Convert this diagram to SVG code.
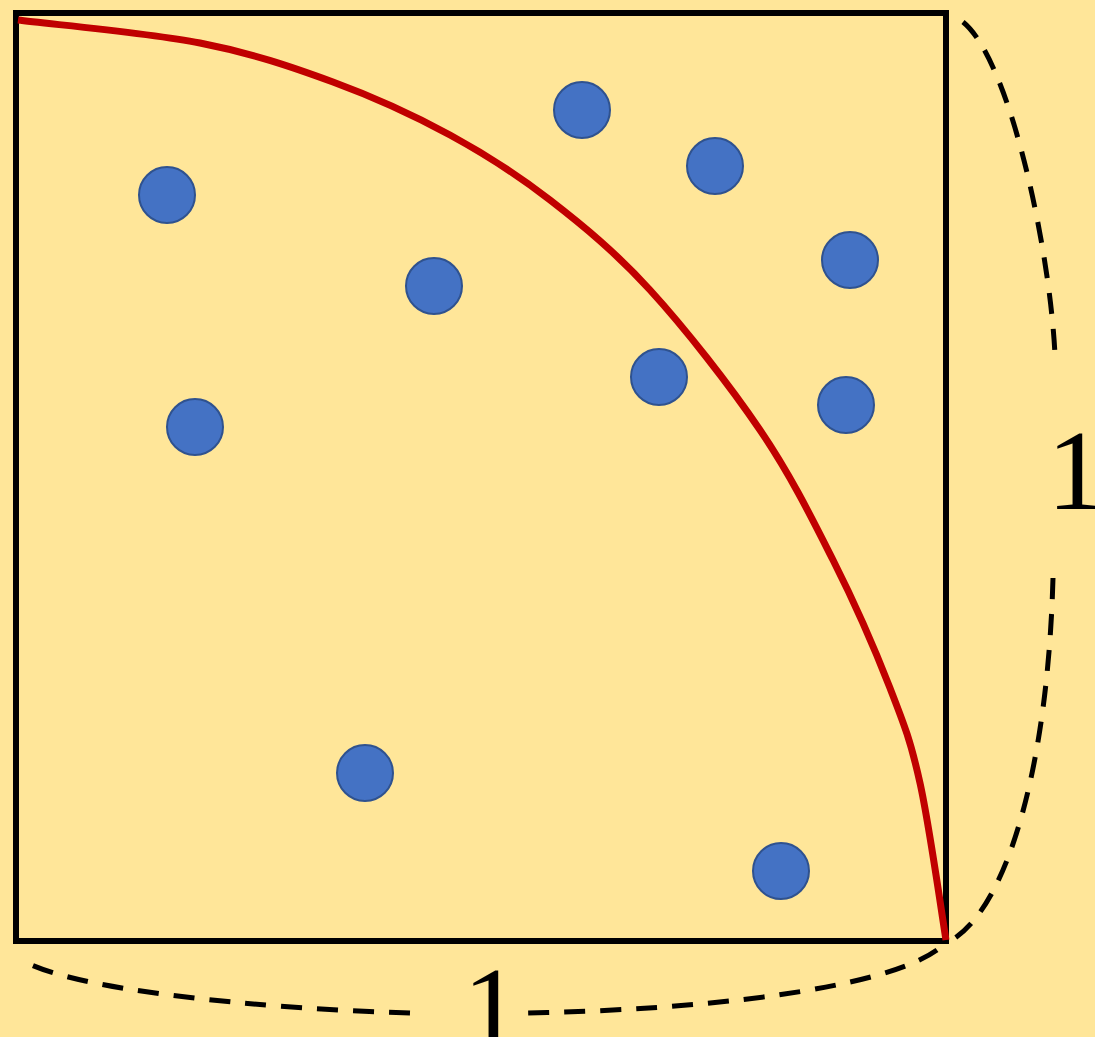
<svg xmlns="http://www.w3.org/2000/svg" width="1095" height="1037" viewBox="0 0 1095 1037">
<style>
.dot{fill:#4472C4;stroke:#2F528F;stroke-width:2}
.dash{fill:none;stroke:#000;stroke-width:5;stroke-dasharray:21 15}
.lbl{font-family:"Liberation Serif",serif;font-size:115px;fill:#000}
</style>
<rect width="1095" height="1037" fill="#FFE699"/>
<rect id="square" x="16" y="13" width="930" height="928" fill="none" stroke="#000" stroke-width="6"/>
<path id="arc" d="M18,20 C48,24 147.5,32.7 200,43 C252.5,53.3 291.3,66.7 333,82 C374.7,97.3 413.8,115.3 450,135 C486.2,154.7 516.7,174.2 550,200 C583.3,225.8 615,251.7 650,290 C685,328.3 729.5,385 760,430 C790.5,475 811.3,517 833,560 C854.7,603 875.5,650.8 890,688 C904.5,725.2 910.7,741 920,783 C929.3,825 941.7,913.8 946,940" fill="none" stroke="#C00000" stroke-width="7"/>
<g id="points">
<circle class="dot" cx="167" cy="195" r="28"/>
<circle class="dot" cx="582" cy="110" r="28"/>
<circle class="dot" cx="715" cy="166" r="28"/>
<circle class="dot" cx="850" cy="260" r="28"/>
<circle class="dot" cx="434" cy="286" r="28"/>
<circle class="dot" cx="659" cy="377" r="28"/>
<circle class="dot" cx="846" cy="405" r="28"/>
<circle class="dot" cx="195" cy="427" r="28"/>
<circle class="dot" cx="365" cy="773" r="28"/>
<circle class="dot" cx="781" cy="871" r="28"/>
</g>
<g id="braces">
<path class="dash" d="M963,22 C1010,60 1050,250 1055,355"/>
<path class="dash" d="M1053,578 C1048,760 1010,900 955,938"/>
<path class="dash" d="M937,950 C880,990 700,1010 525,1013"/>
<path class="dash" d="M410,1013 C250,1008 80,990 25,962"/>
</g>
<text class="lbl" x="1047" y="509">1</text>
<text class="lbl" x="463" y="1046">1</text>
</svg>
